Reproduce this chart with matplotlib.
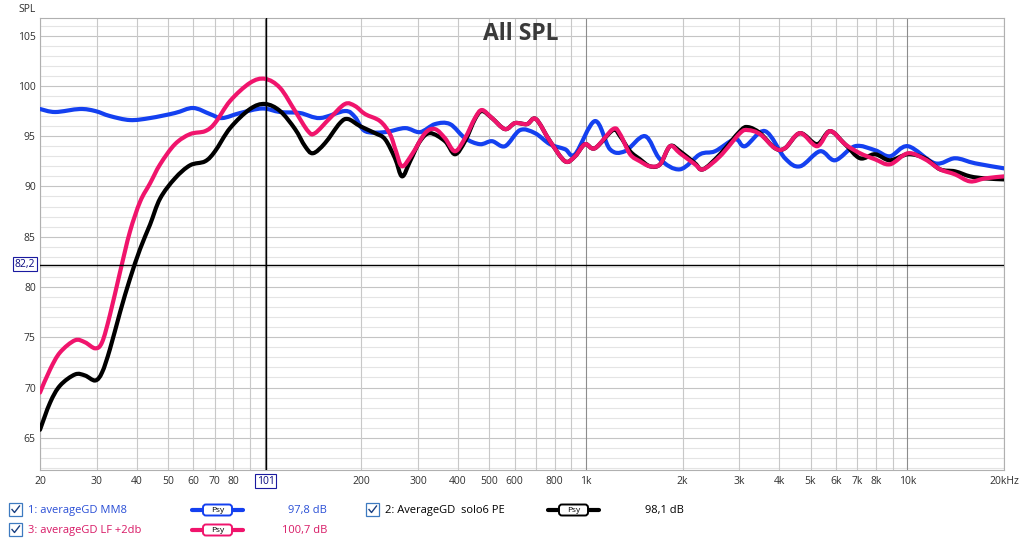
import matplotlib
matplotlib.use('Agg')
import matplotlib.pyplot as plt
from matplotlib.patches import FancyBboxPatch, Rectangle, PathPatch
from matplotlib.path import Path
import numpy as np

# ---------------- data ----------------
blue_f = [20, 22.3, 26.6, 29.7, 33.0, 38.1, 44.0, 52.6, 59.9, 67.6, 73.7, 83.9, 98.2, 111.7,
          128.9, 148.7, 177.9, 191.1, 205.4, 237, 273.6, 304.6, 339.2, 377.6, 420.4, 468, 510,
          560, 623.6, 694, 773, 861, 925, 1067, 1188, 1323, 1527, 1701, 1962, 2265, 2522,
          2911, 3126, 3609, 4164, 4637, 5353, 5961, 6878, 7936, 8836, 10051, 12202, 14082,
          16254, 20000]
blue_db = [97.7, 97.4, 97.7, 97.5, 97.0, 96.6, 96.8, 97.3, 97.8, 97.2, 96.8, 97.3, 97.75, 97.4,
           97.3, 96.8, 97.5, 96.9, 95.5, 95.4, 95.8, 95.4, 96.2, 96.2, 94.8, 94.2, 94.5,
           94.0, 95.6, 95.3, 94.2, 93.7, 93.2, 96.5, 93.7, 93.5, 95.0, 92.7, 91.7, 93.2, 93.5,
           94.7, 94.0, 95.5, 92.8, 92.0, 93.5, 92.6, 94.0, 93.6, 93.0, 94.0, 92.3, 92.8,
           92.3, 91.8]

black_f = [20, 21.5, 23.1, 25.7, 27.6, 29.7, 31.2, 33.0, 35.5, 38.1, 41.0, 44.0, 47.3, 52.6,
           58.6, 65.3, 70.1, 78.1, 90.1, 100.3, 111.7, 124.4, 133.6, 141.4, 154.1, 171.6,
           181.8, 198.1, 220.6, 237, 254.6, 267.8, 283.6, 304.6, 327.2, 364.2, 391.2, 420.4,
           451.6, 474.8, 510, 560, 601.6, 655.6, 699, 773, 861, 925, 993, 1067, 1214, 1277,
           1372, 1473, 1583, 1701, 1827, 1962, 2185, 2314, 2614, 3017, 3194, 3482, 3877,
           4164, 4637, 5239, 5749, 6402, 7129, 7936, 8836, 10051, 11357, 12646, 14082,
           15682, 17458, 20000]
black_db = [65.8, 68.5, 70.2, 71.3, 71.2, 70.7, 71.5, 73.8, 77.5, 80.8, 83.8, 86.2, 88.8, 90.8,
            92.1, 92.5, 93.5, 95.8, 97.7, 98.2, 97.5, 95.7, 94.0, 93.3, 94.3, 96.3,
            96.7, 96.0, 95.3, 94.7, 92.8, 91.0, 92.5, 94.5, 95.3, 94.5, 93.2, 94.5,
            96.7, 97.5, 96.8, 95.7, 96.3, 96.2, 96.7, 94.5, 92.5, 93.0, 94.2, 93.8, 95.6, 95.0,
            93.5, 92.7, 92.0, 92.2, 94.0, 93.5, 92.3, 91.7, 93.2, 95.5, 95.9, 95.3, 93.8,
            93.8, 95.3, 94.2, 95.5, 94.2, 92.8, 93.2, 92.6, 93.2, 92.8, 91.7, 91.5,
            91.0, 90.8, 90.7]

pink_f = [20, 21.5, 23.1, 25.7, 27.6, 29.7, 31.2, 33.0, 35.5, 38.1, 41.0, 44.0, 47.3, 52.6,
          58.6, 65.3, 70.1, 78.1, 90.1, 100.3, 111.7, 124.4, 136.5, 143.5, 159.8, 177.9,
          191.1, 205.4, 228.6, 245.6, 256.4, 267.8, 287.6, 315.8, 339.2, 364.2, 391.2, 420.4,
          451.6, 474.8, 510, 560, 601.6, 655.6, 699, 773, 861, 925, 993, 1067, 1214, 1277,
          1372, 1473, 1583, 1701, 1827, 1962, 2185, 2314, 2614, 3017, 3194, 3482, 3877,
          4164, 4637, 5239, 5749, 6402, 7129, 7936, 8836, 10051, 11357, 12646, 14082,
          15682, 17458, 20000]
pink_db = [69.5, 71.8, 73.5, 74.7, 74.5, 73.9, 74.5, 77.2, 81.5, 85.5, 88.5, 90.3, 92.2, 94.2,
           95.2, 95.5, 96.3, 98.5, 100.3, 100.7, 99.8, 97.5, 95.5, 95.3, 96.8, 98.2,
           98.0, 97.2, 96.5, 95.2, 93.5, 92.0, 93.2, 95.3, 95.7, 94.8, 93.5, 94.8,
           96.8, 97.6, 96.8, 95.7, 96.3, 96.2, 96.7, 94.5, 92.5, 93.0, 94.2, 93.8, 95.7, 95.2,
           93.2, 92.5, 92.0, 92.2, 94.0, 93.3, 92.2, 91.7, 93.0, 95.3, 95.6, 95.2, 93.8,
           93.8, 95.3, 94.0, 95.5, 94.2, 93.3, 92.7, 92.2, 93.3, 92.7, 91.7, 91.2,
           90.5, 90.8, 91.0]

x_tick_vals = [20, 30, 40, 50, 60, 70, 80, 200, 300, 400, 500, 600, 800, 1000, 2000, 3000,
               4000, 5000, 6000, 7000, 8000, 10000, 20000]
x_tick_labels = ['20', '30', '40', '50', '60', '70', '80', '200', '300', '400', '500', '600',
                 '800', '1k', '2k', '3k', '4k', '5k', '6k', '7k', '8k', '10k', '20kHz']
y_tick_vals = [65, 70, 75, 80, 85, 90, 95, 100, 105]

cursor_f = 101
cursor_db = 82.2

legend_names = ['1: averageGD MM8', '2: AverageGD  solo6 PE', '3: averageGD LF +2db']
legend_values = ['97,8 dB', '98,1 dB', '100,7 dB']

BLUE = '#1440f0'
PINK = '#f0146c'
BLACK = '#000000'
BLUE_TXT = '#2a4fd6'
PINK_TXT = '#d81a66'

# ---------------- figure ----------------
W, H = 1024, 543
plt.rcParams['font.family'] = ['Open Sans', 'DejaVu Sans']
fig = plt.figure(figsize=(W / 100, H / 100), dpi=100)
fig.patch.set_facecolor('white')

ax = fig.add_axes([40 / W, 1 - 470 / H, 964 / W, 452 / H])
ax.set_xscale('log')
ax.set_xlim(20, 20000)
ax.set_ylim(61.8, 106.75)

# grid
grid_f = []
for dec in [10, 100, 1000, 10000]:
    for m in range(1, 10):
        v = dec * m
        if 20 <= v <= 20000:
            grid_f.append(v)
grid_f.append(20000)
for v in grid_f:
    dark = v in (100, 1000, 10000)
    ax.axvline(v, color='#8c8c8c' if dark else '#c8c8c8', lw=0.8, zorder=1)
for v in range(62, 107):
    ax.axhline(v, color='#c4c4c4' if v % 5 == 0 else '#e4e4e4', lw=0.8, zorder=0.9)

for s in ax.spines.values():
    s.set_color('#b0b0b0')
    s.set_linewidth(0.8)

ax.set_xticks(x_tick_vals)
ax.set_xticklabels(x_tick_labels)
ax.xaxis.set_minor_locator(matplotlib.ticker.NullLocator())
ax.set_yticks(y_tick_vals)
ax.set_yticklabels([str(v) for v in y_tick_vals])
ax.tick_params(axis='both', length=0, labelsize=7.5, colors='#303030')
ax.tick_params(axis='x', pad=4)
ax.tick_params(axis='y', pad=3)


def smooth_curve(freqs, vals, color, z):
    """Draw the read points joined by a smooth (Catmull-Rom Bezier) path on the axes' scales."""
    u = np.log10(np.asarray(freqs, float))
    v = np.asarray(vals, float)
    n = len(u)
    verts = [(freqs[0], vals[0])]
    codes = [Path.MOVETO]
    for i in range(n - 1):
        i0 = max(i - 1, 0)
        i3 = min(i + 2, n - 1)
        c1u = u[i] + (u[i + 1] - u[i0]) / 6.0
        c1v = v[i] + (v[i + 1] - v[i0]) / 6.0
        c2u = u[i + 1] - (u[i3] - u[i]) / 6.0
        c2v = v[i + 1] - (v[i3] - v[i]) / 6.0
        verts += [(10 ** c1u, c1v), (10 ** c2u, c2v), (freqs[i + 1], vals[i + 1])]
        codes += [Path.CURVE4] * 3
    p = PathPatch(Path(verts, codes), fill=False, ec=color, lw=3.0,
                  joinstyle='round', capstyle='round', zorder=z, transform=ax.transData)
    p.set_clip_path(ax.patch)
    ax.add_patch(p)


smooth_curve(blue_f, blue_db, BLUE, 3)
smooth_curve(black_f, black_db, BLACK, 4)
smooth_curve(pink_f, pink_db, PINK, 5)

# cursor
ax.axvline(cursor_f, color='black', lw=1.0, zorder=6)
ax.axhline(cursor_db, color='black', lw=1.0, zorder=6)

# overlay in pixel coordinates
ov = fig.add_axes([0, 0, 1, 1], zorder=10)
ov.set_xlim(0, W)
ov.set_ylim(H, 0)
ov.axis('off')
ov.patch.set_alpha(0)

ov.text(18, 9, 'SPL', fontsize=7.5, color='#303030', ha='left', va='center')
ov.text(521, 34, 'All SPL', fontsize=16.5, fontweight='bold', color='#3a3a3a',
        ha='center', va='center')

box_kw = dict(boxstyle='square,pad=0.15', fc='white', ec='#1a1aa0', lw=0.8)
ov.text(25, 264, '82,2', fontsize=7.5, color='#0a0a80', ha='center', va='center', bbox=box_kw)
ov.text(265.5, 481, '101', fontsize=7.5, color='#0a0a80', ha='center', va='center', bbox=box_kw)


def checkbox(x, y):
    ov.add_patch(Rectangle((x, y - 7), 13, 13, fc='white', ec='#3d7ac0', lw=0.9))
    ov.plot([x + 3, x + 5.5, x + 10.5], [y - 0.5, y + 2.5, y - 4], color='#1a3f80', lw=1.0)


def psy(x0, x1, y, color):
    ov.plot([x0, x1], [y, y], color=color, lw=3.0, solid_capstyle='round')
    bx0 = x0 + 11
    bw = (x1 - x0) - 22
    ov.add_patch(FancyBboxPatch((bx0, y - 5.5), bw, 11,
                                boxstyle='round,pad=0,rounding_size=3',
                                fc='white', ec=color, lw=1.4, zorder=3))
    ov.text(bx0 + bw / 2, y + 0.5, 'Psy', fontsize=6, color='black', ha='center', va='center',
            zorder=4)


y1, y2 = 510, 530
checkbox(9, y1)
ov.text(28, y1, legend_names[0], fontsize=8, color=BLUE_TXT, ha='left', va='center')
psy(192, 243, y1, BLUE)
ov.text(327, y1, legend_values[0], fontsize=8, color=BLUE_TXT, ha='right', va='center')

checkbox(366, y1)
ov.text(385, y1, legend_names[1], fontsize=8, color='black', ha='left', va='center')
psy(548, 599, y1, BLACK)
ov.text(645, y1, legend_values[1], fontsize=8, color='black', ha='left', va='center')

checkbox(9, y2)
ov.text(28, y2, legend_names[2], fontsize=8, color=PINK_TXT, ha='left', va='center')
psy(192, 243, y2, PINK)
ov.text(327, y2, legend_values[2], fontsize=8, color=PINK_TXT, ha='right', va='center')

fig.savefig('out.png', dpi=100, facecolor='white')
